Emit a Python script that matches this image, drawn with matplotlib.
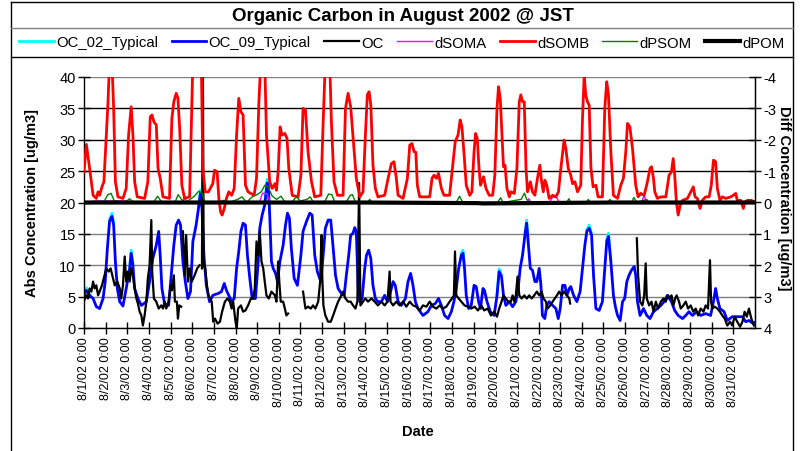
import numpy as np
import matplotlib
matplotlib.use("Agg")
import matplotlib.pyplot as plt
from matplotlib.lines import Line2D

plt.rcParams['font.family'] = ['Liberation Sans', 'DejaVu Sans']
plt.rcParams['axes.unicode_minus'] = False

GAP = (np.nan, np.nan)

# ---- data: (day offset from 8/1/02 0:00, value) ----
# Left axis series [ug/m3]
OC_09_TYPICAL = [(0, 5.2), (.11, 6.0), (.26, 5.2), (.42, 4.7), (.57, 3.4), (.72, 3.1), (.88, 4.7), (.98, 7.4),
    (1.08, 12.7), (1.18, 17.0), (1.29, 17.8), (1.37, 16.4), (1.45, 10.6), (1.54, 6.3), (1.65, 4.2), (1.8, 3.5),
    (1.95, 6.3), (2.11, 9.5), (2.18, 11.9), (2.26, 10.0), (2.34, 6.3), (2.49, 4.7), (2.65, 3.6), (2.88, 4.2),
    (3.03, 7.4), (3.18, 11.1), (3.34, 13.2), (3.45, 15.4), (3.52, 11.6), (3.6, 6.3), (3.72, 3.9), (3.91, 3.6),
    (4.03, 8.4), (4.15, 13.2), (4.26, 16.4), (4.37, 17.2), (4.46, 16.4), (4.57, 10.6), (4.68, 7.4), (4.8, 4.7),
    (4.92, 5.8), (5.03, 13.8), (5.18, 16.4), (5.29, 19.1), (5.38, 21.5), (5.45, 19.1), (5.54, 11.6), (5.65, 6.8),
    (5.8, 4.2), (5.95, 5.2), (6.1, 5.4), (6.2, 5.5), (6.35, 5.8), (6.48, 7.1), (6.58, 6.0), (6.69, 5.2),
    (6.82, 4.2), (6.94, 4.7), (7.05, 9.5), (7.15, 12.2), (7.25, 15.4), (7.35, 16.7), (7.46, 16.4), (7.55, 11.6),
    (7.66, 7.9), (7.77, 4.7), (7.92, 4.7), (8.05, 10.6), (8.12, 15.9), (8.23, 18.0), (8.35, 19.6), (8.46, 23.1),
    (8.51, 22.8), (8.58, 18.0), (8.66, 10.6), (8.74, 9.5), (8.85, 8.7), (8.94, 7.4), (9.05, 10.6), (9.2, 13.2),
    (9.31, 16.4), (9.4, 18.3), (9.49, 17.5), (9.58, 12.7), (9.71, 7.9), (9.86, 6.8), (10.02, 11.6), (10.12, 15.4),
    (10.28, 17.0), (10.43, 18.3), (10.54, 18.0), (10.66, 11.6), (10.78, 9.0), (10.94, 7.4), (11.05, 11.6),
    (11.15, 15.9), (11.28, 17.2), (11.4, 17.2), (11.51, 12.7), (11.62, 8.4), (11.74, 6.3), (11.89, 5.5),
    (12.02, 5.2), (12.12, 8.4), (12.23, 11.6), (12.32, 14.8), (12.43, 15.1), (12.51, 16.0), (12.58, 15.4),
    (12.66, 6.8), (12.74, 4.2), (12.85, 4.7), (12.97, 9.5), (13.05, 11.6), (13.15, 12.4), (13.25, 11.1),
    (13.35, 6.8), (13.46, 4.7), (13.58, 4.2), (13.74, 4.2), (13.89, 5.2), (14.02, 4.2), (14.12, 5.2),
    (14.28, 7.4), (14.38, 6.8), (14.51, 4.2), (14.66, 3.6), (14.85, 4.7), (14.97, 7.4), (15.09, 8.7),
    (15.2, 6.8), (15.31, 4.2), (15.43, 3.1), (15.66, 2.0), (15.89, 2.6), (16.05, 3.6), (16.23, 3.9),
    (16.38, 4.7), (16.51, 3.6), (16.66, 2.0), (16.82, 1.5), (16.97, 2.6), (17.09, 4.2), (17.2, 6.3),
    (17.31, 9.5), (17.43, 11.6), (17.51, 11.9), (17.58, 9.5), (17.66, 5.2), (17.77, 3.1), (17.89, 3.6),
    (18.02, 6.8), (18.12, 6.6), (18.23, 4.2), (18.32, 3.1), (18.43, 6.3), (18.5, 6.0), (18.62, 4.2),
    (18.77, 2.6), (18.95, 2.0), (19.08, 5.2), (19.18, 9.0), (19.29, 8.2), (19.38, 5.2), (19.49, 3.6),
    (19.65, 4.2), (19.8, 3.4), (19.95, 4.2), (20.06, 6.3), (20.15, 9.5), (20.26, 11.6), (20.37, 14.8),
    (20.45, 16.7), (20.52, 13.8), (20.62, 9.5), (20.72, 9.2), (20.83, 7.4), (20.92, 7.4), (21.03, 9.5),
    (21.11, 6.8), (21.18, 2.0), (21.29, 1.5), (21.38, 3.6), (21.49, 4.2), (21.65, 3.6), (21.8, 3.1),
    (21.91, 1.5), (22.0, 3.1), (22.11, 6.8), (22.22, 6.8), (22.31, 5.2), (22.42, 6.3), (22.49, 6.6),
    (22.62, 5.2), (22.77, 4.2), (22.92, 5.8), (23.03, 9.5), (23.14, 13.2), (23.23, 15.4), (23.34, 15.9),
    (23.45, 14.8), (23.54, 8.4), (23.65, 3.1), (23.8, 2.8), (23.95, 4.2), (24.06, 9.5), (24.15, 13.8),
    (24.23, 14.6), (24.34, 10.6), (24.46, 5.2), (24.55, 3.4), (24.65, 2.0), (24.77, 1.2), (24.88, 4.2),
    (24.98, 4.7), (25.08, 7.4), (25.18, 8.4), (25.29, 9.2), (25.42, 9.8), (25.49, 8.4), (25.57, 4.2),
    (25.69, 2.0), (25.85, 3.1), (26.0, 2.0), (26.15, 1.5), (26.31, 2.6), (26.49, 3.1), (26.65, 3.6),
    (26.8, 4.2), (26.95, 5.2), (27.14, 4.2), (27.29, 2.8), (27.45, 2.0), (27.65, 1.5), (27.8, 2.0),
    (27.95, 2.6), (28.11, 2.0), (28.31, 2.6), (28.49, 2.0), (28.72, 2.3), (28.95, 2.0), (29.08, 4.2),
    (29.18, 6.3), (29.26, 4.7), (29.38, 3.1), (29.57, 2.6), (29.72, 1.2), (29.95, 1.8), (30.18, 1.8),
    (30.42, 1.8), (30.57, 1.0), (30.72, 1.2), (30.92, 0.7), (31.0, 0.9)]

# OC_02_Typical: nearly identical to OC_09; only the portions visible above it (peaks)
OC_02_TYPICAL = [(0, 5.5), (.11, 6.4), (.26, 5.4), GAP,
    (1.18, 17.3), (1.29, 18.3), (1.37, 16.7), GAP,
    (2.11, 9.7), (2.18, 12.4), (2.26, 10.2), GAP,
    (5.29, 19.4), (5.38, 22.0), (5.45, 19.4), GAP,
    (8.35, 19.9), (8.46, 23.7), (8.51, 23.3), (8.58, 18.3), GAP,
    (17.43, 11.9), (17.51, 12.4), (17.58, 9.7), GAP,
    (19.08, 5.4), (19.18, 9.4), (19.29, 8.4), GAP,
    (20.37, 15.1), (20.45, 17.2), (20.52, 14.0), GAP,
    (23.23, 15.7), (23.34, 16.4), (23.45, 15.0), GAP,
    (24.15, 14.0), (24.23, 15.1), (24.34, 10.8)]

OC = [(0, 4.2), (.06, 5.0), (.11, 5.2), (.18, 4.7), (.26, 6.3), (.34, 5.8), (.42, 7.4), (.49, 6.3), (.57, 6.8),
    (.65, 5.2), (.72, 5.8), (.83, 6.8), (.95, 8.4), (1.03, 9.5), (1.14, 9.0), (1.23, 9.5), (1.34, 7.9),
    (1.42, 6.8), (1.54, 7.4), (1.65, 6.3), (1.72, 4.7), (1.8, 6.8), (1.88, 11.4), (1.95, 7.4), (2.03, 9.0),
    (2.11, 7.4), (2.18, 9.5), (2.26, 8.4), (2.34, 6.3), (2.42, 4.7), (2.49, 3.9), (2.57, 2.6), (2.65, 2.0),
    (2.72, 0.4), (2.8, 2.0), (2.88, 4.2), (2.95, 7.9), (3.03, 10.0), (3.11, 17.2), (3.15, 9.0), (3.23, 4.7),
    (3.34, 4.2), (3.45, 3.1), (3.57, 3.6), (3.65, 3.1), (3.72, 4.2), (3.8, 3.1), (3.91, 4.2), (4.0, 6.8),
    (4.06, 6.0), (4.15, 8.4), (4.2, 4.2), (4.29, 4.2), (4.34, 1.5), (4.4, 3.6), (4.49, 3.4), GAP,
    (4.57, 15.4), (4.65, 8.4), (4.72, 14.8), (4.8, 7.4), (4.88, 9.5), (4.98, 7.4), (5.11, 8.4), (5.23, 9.5),
    (5.34, 10.0), GAP,
    (5.45, 9.5), (5.49, 45.0), (5.53, 10.0), (5.6, 9.5), (5.68, 6.8), (5.75, 5.2), (5.9, 4.2), (5.97, 1.0),
    (6.05, 1.5), (6.17, 0.7), (6.28, 1.0), (6.38, 2.6), (6.51, 4.2), (6.63, 4.7), (6.74, 4.2), (6.82, 3.1),
    (6.89, 4.2), (7.0, 1.0), (7.06, 0.0), (7.12, 3.1), (7.25, 3.6), (7.35, 2.6), (7.46, 2.8), (7.58, 3.6),
    (7.71, 4.7), (7.82, 4.7), (7.89, 6.3), (7.97, 13.8), (8.05, 11.6), (8.12, 15.4), (8.2, 10.6), (8.28, 9.5),
    (8.35, 7.4), (8.43, 5.2), (8.54, 4.7), (8.66, 5.8), (8.82, 5.2), (8.89, 4.2), (8.97, 10.6), (9.03, 7.0),
    (9.09, 4.2), (9.2, 4.2), (9.28, 3.1), (9.35, 2.0), (9.43, 2.3), GAP,
    (10.12, 5.8), (10.23, 3.1), (10.35, 3.4), (10.48, 3.1), (10.58, 3.6), (10.69, 3.1), (10.82, 4.2),
    (10.91, 7.4), (10.97, 14.8), (11.01, 8.0), (11.06, 3.6), (11.15, 2.0), (11.28, 1.0), (11.4, 1.0),
    (11.51, 2.0), (11.62, 3.1), (11.74, 4.2), (11.89, 5.2), (11.97, 5.8), (12.08, 4.7), (12.2, 4.2),
    (12.32, 4.2), (12.43, 3.6), (12.54, 3.1), (12.63, 4.2), (12.71, 23.1), (12.77, 3.6), (12.89, 4.2),
    (13.0, 4.7), (13.12, 4.2), (13.28, 4.7), (13.43, 4.2), (13.58, 3.6), (13.74, 4.2), (13.89, 3.6),
    (14.02, 4.2), (14.12, 9.0), (14.16, 4.2), (14.28, 3.6), (14.43, 4.2), (14.58, 3.6), (14.74, 4.2),
    (14.89, 3.4), (15.05, 4.2), (15.2, 3.6), (15.35, 3.4), (15.51, 2.8), (15.66, 3.6), (15.82, 3.4),
    (15.97, 4.2), (16.12, 3.4), (16.28, 3.1), (16.43, 3.6), (16.58, 3.1), (16.74, 3.4), (16.89, 4.2),
    (17.0, 4.7), (17.09, 5.2), (17.14, 12.2), (17.2, 5.2), (17.31, 4.7), (17.43, 4.2), (17.58, 3.6),
    (17.74, 3.4), (17.89, 3.1), (18.05, 3.4), (18.2, 2.8), (18.35, 3.6), (18.49, 2.8), (18.65, 3.1),
    (18.8, 2.0), (18.95, 2.6), (19.08, 1.8), (19.18, 3.1), (19.29, 4.2), (19.38, 5.2), (19.49, 4.7),
    (19.6, 4.2), (19.72, 4.2), (19.8, 5.2), (19.88, 4.2), (19.95, 5.2), (20.03, 8.2), (20.11, 5.2),
    (20.22, 4.7), (20.34, 5.2), (20.46, 4.7), (20.57, 5.2), (20.68, 4.7), (20.8, 5.2), (20.92, 5.8),
    (21.03, 5.2), (21.14, 5.8), (21.23, 4.7), (21.34, 4.2), (21.42, 3.1), (21.54, 3.6), (21.65, 4.2),
    (21.75, 4.7), (21.85, 5.2), (21.95, 5.8), (22.06, 5.2), (22.18, 5.8), (22.31, 5.2), (22.42, 4.7),
    (22.46, 3.9), GAP,
    (25.54, 14.3), (25.6, 8.4), (25.69, 4.2), (25.8, 3.6), (25.88, 5.2), (25.95, 10.3), (26.0, 4.7),
    (26.11, 3.6), (26.22, 4.2), (26.31, 2.6), (26.42, 4.2), (26.52, 3.1), (26.65, 4.2), (26.77, 4.7),
    (26.88, 4.2), (26.98, 5.2), (27.08, 4.7), (27.14, 5.2), (27.23, 3.6), (27.31, 4.7), (27.38, 5.2),
    (27.49, 4.2), (27.57, 3.1), (27.69, 3.6), (27.8, 4.2), (27.91, 3.1), (28.03, 3.6), (28.15, 2.6),
    (28.26, 3.1), (28.37, 2.0), (28.49, 3.1), (28.62, 2.6), (28.72, 3.6), (28.83, 3.1), (28.92, 10.8),
    (28.97, 4.2), (29.03, 3.1), (29.14, 3.4), (29.26, 3.1), (29.38, 2.6), (29.49, 2.0), (29.6, 1.5),
    (29.72, 0.4), (29.85, 1.0), (29.95, 0.4), (30.06, 1.8), (30.18, 1.0), (30.31, 0.2), (30.42, 1.0),
    (30.52, 2.6), (30.62, 1.8), (30.72, 3.1), (30.83, 1.5), (30.95, 0.4)]

# Right axis series [ug/m3] (difference, axis inverted)
DSOMB = [(0, -0.98), (.11, -1.85), (.26, -1.09), (.42, -0.23), (.57, -0.13), (.65, -0.34), (.72, -0.23),
    (.83, -0.5), (.92, -0.66), (1.03, -2.15), (1.11, -3.21), (1.18, -4.5), (1.29, -4.5), (1.37, -3.0),
    (1.45, -0.66), (1.57, -0.18), (1.8, -0.13), (1.95, -0.45), (2.06, -2.15), (2.18, -3.05), (2.26, -2.15),
    (2.34, -0.66), (2.46, -0.18), (2.8, -0.13), (2.95, -0.66), (3.06, -2.73), (3.14, -2.79), (3.23, -2.57),
    (3.34, -2.47), (3.42, -1.09), (3.52, -0.77), (3.65, -0.18), (3.95, -0.13), (4.06, -2.68), (4.15, -3.21),
    (4.26, -3.48), (4.34, -3.32), (4.42, -2.36), (4.52, -0.55), (4.65, -0.13), (4.88, -0.18), (4.95, -2.15),
    (5.03, -4.5), (5.42, -4.5), (5.49, -1.09), (5.6, -0.34), (5.75, -0.34), (5.95, -0.6), (6.03, -1.03),
    (6.15, -0.98), (6.23, -0.13), (6.31, 0.3), (6.38, 0.4), (6.48, 0.19), (6.58, -0.13), (6.69, -0.34),
    (6.82, -0.23), (6.94, -0.45), (7.05, -2.15), (7.15, -3.32), (7.25, -2.89), (7.35, -2.79), (7.46, -0.55),
    (7.58, -0.34), (7.86, -0.23), (7.97, -0.77), (8.08, -3.21), (8.17, -4.5), (8.35, -4.5), (8.43, -2.15),
    (8.58, -0.66), (8.69, -0.45), (8.82, -0.6), (8.89, -0.39), (8.97, -0.98), (9.06, -2.41), (9.15, -2.15),
    (9.28, -2.2), (9.38, -2.04), (9.46, -1.09), (9.62, -0.23), (9.89, -0.18), (10.02, -0.87), (10.12, -3.0),
    (10.23, -2.95), (10.35, -1.62), (10.51, -0.66), (10.66, -0.18), (10.94, -0.23), (11.05, -2.57),
    (11.15, -4.5), (11.35, -4.5), (11.43, -2.57), (11.55, -0.66), (11.71, -0.23), (11.97, -0.23),
    (12.08, -3.0), (12.2, -3.48), (12.32, -3.05), (12.48, -1.62), (12.58, -0.77), (12.74, -0.18),
    (12.89, -0.34), (13.0, -2.15), (13.09, -3.43), (13.17, -3.53), (13.25, -3.11), (13.35, -1.19),
    (13.46, -0.45), (13.58, -0.18), (13.89, -0.23), (14.05, -0.77), (14.2, -1.24), (14.32, -1.3),
    (14.43, -0.77), (14.51, -0.23), (14.74, -0.13), (14.94, -0.77), (15.05, -1.83), (15.15, -1.88),
    (15.25, -1.62), (15.33, -1.6), (15.4, -0.55), (15.51, -0.18), (15.97, -0.18), (16.08, -0.77),
    (16.17, -0.87), (16.28, -0.77), (16.38, -0.93), (16.51, -0.45), (16.63, -0.23), (16.89, -0.23),
    (17.05, -1.3), (17.15, -1.94), (17.28, -2.15), (17.38, -2.63), (17.46, -2.41), (17.55, -1.62),
    (17.66, -0.55), (17.82, -0.23), (17.92, -0.34), (18.02, -1.62), (18.09, -2.2), (18.17, -2.04),
    (18.25, -1.09), (18.32, -0.55), (18.46, -0.82), (18.57, -0.45), (18.72, -0.23), (18.88, -0.23),
    (18.98, -0.87), (19.08, -3.0), (19.15, -3.69), (19.23, -3.32), (19.31, -2.15), (19.38, -1.14),
    (19.45, -1.19), (19.54, -0.45), (19.65, -0.18), (19.72, -0.34), (19.88, -0.29), (20.0, -1.09),
    (20.11, -3.21), (20.18, -3.43), (20.26, -3.21), (20.34, -3.21), (20.42, -1.09), (20.49, -0.34),
    (20.62, -0.66), (20.72, -0.34), (20.83, -0.23), (20.95, -0.77), (21.06, -1.19), (21.14, -0.66),
    (21.22, -0.34), (21.29, -0.71), (21.38, -0.55), (21.49, -0.13), (21.65, -0.23), (21.8, -0.18),
    (21.92, -0.34), (22.03, -1.09), (22.12, -1.62), (22.18, -1.99), (22.26, -1.72), (22.37, -1.09),
    (22.49, -0.87), (22.57, -0.6), (22.68, -0.66), (22.8, -0.34), (22.95, -0.55), (23.03, -2.68),
    (23.11, -4.05), (23.18, -3.43), (23.26, -3.21), (23.34, -3.1), (23.42, -1.09), (23.52, -0.5),
    (23.65, -0.55), (23.75, -0.18), (23.95, -0.18), (24.06, -3.0), (24.15, -3.85), (24.23, -3.43),
    (24.34, -1.62), (24.46, -0.23), (24.65, -0.13), (24.8, -0.55), (24.92, -0.77), (25.03, -1.62),
    (25.11, -2.52), (25.22, -2.41), (25.34, -1.72), (25.42, -1.09), (25.49, -0.55), (25.6, -0.18),
    (25.72, -0.29), (25.88, -0.23), (26.03, -0.66), (26.15, -1.09), (26.22, -1.14), (26.31, -0.77),
    (26.37, -0.34), (26.49, -0.13), (26.65, -0.18), (26.88, -0.18), (27.03, -0.87), (27.14, -0.98),
    (27.22, -1.4), (27.29, -0.87), (27.37, 0.0), (27.45, 0.4), (27.54, 0.09), (27.65, -0.07), (27.88, -0.13),
    (28.03, -0.34), (28.15, -0.5), (28.23, -0.18), (28.34, -0.13), (28.46, 0.19), (28.57, -0.07),
    (28.72, -0.18), (28.88, -0.18), (28.98, -0.55), (29.08, -1.35), (29.18, -1.3), (29.26, -0.45),
    (29.38, -0.07), (29.49, -0.18), (29.65, -0.13), (29.88, -0.18), (30.0, -0.23), (30.11, -0.29),
    (30.18, -0.07), (30.34, -0.07), (30.46, 0.19), (30.52, 0.0), (30.65, -0.07), (30.83, -0.07), (31.0, 0.0)]

DPSOM = [(0, 0.0), (0.9, 0.0), (1.1, -0.25), (1.25, -0.29), (1.4, -0.05), (1.9, 0.0), (2.1, -0.12), (2.3, 0.0),
    (3.2, 0.0), (3.4, -0.2), (3.6, 0.0), (4.2, 0.0), (4.35, -0.25), (4.5, -0.1), (4.7, 0.0), (5.1, -0.2),
    (5.3, -0.36), (5.45, -0.3), (5.6, 0.0), (6.2, 0.0), (6.45, -0.07), (6.7, 0.0), (7.1, -0.1), (7.3, -0.18),
    (7.5, 0.0), (7.8, -0.2), (8.0, -0.25), (8.2, -0.35), (8.35, -0.55), (8.5, -0.5), (8.7, -0.2), (8.9, -0.1),
    (9.1, -0.2), (9.3, 0.0), (9.6, 0.0), (9.8, -0.18), (10.0, -0.05), (10.3, -0.1), (10.45, -0.18),
    (10.6, 0.0), (11.1, 0.0), (11.3, -0.27), (11.45, -0.25), (11.6, 0.0), (12.1, 0.0), (12.3, -0.23),
    (12.4, -0.25), (12.55, 0.0), (13.1, 0.0), (13.2, -0.1), (13.3, 0.0), (17.2, 0.0), (17.35, -0.2),
    (17.5, 0.0), (19.1, 0.0), (19.25, -0.15), (19.35, 0.0), (20.2, -0.1), (20.35, -0.3), (20.45, -0.1),
    (20.6, 0.0), (22.3, 0.0), (22.4, -0.12), (22.5, 0.0), (23.2, 0.0), (23.3, -0.1), (23.4, 0.0),
    (24.2, 0.0), (24.3, -0.1), (24.4, 0.0), (25.3, 0.0), (25.4, -0.16), (25.55, 0.0), (26.0, -0.1),
    (26.1, 0.0), (31, 0.0)]

DSOMA = [(0, 0.0), (0.5, -0.05), (1.9, -0.05), (2.0, 0.0), (4.55, 0.0), (4.65, -0.18), (4.75, 0.0),
    (8.1, 0.0), (8.25, -0.3), (8.45, -0.28), (8.6, 0.0), (20.45, 0.0), (20.55, -0.12), (20.65, 0.0),
    (21.5, 0.0), (21.65, -0.18), (21.85, -0.15), (21.95, 0.0), (25.75, 0.0), (25.88, -0.23),
    (25.98, 0.0), (31, 0.0)]

DPOM = [(0, 0.0), (13.0, 0.0), (18.2, 0.02), (18.4, 0.03), (24.5, 0.0), (31, 0.0)]

DAY_LABELS = [f"8/{d}/02 0:00" for d in range(1, 32)]
LEFT_TICKS = [0, 5, 10, 15, 20, 25, 30, 35, 40]
RIGHT_TICKS = [-4, -3, -2, -1, 0, 1, 2, 3, 4]


def xy(pts):
    a = np.array(pts, dtype=float)
    return a[:, 0], a[:, 1]


W, H = 803, 452
fig = plt.figure(figsize=(W / 100, H / 100), dpi=100)
L, R, T, B = 84, 755, 78, 329
ax = fig.add_axes([L / W, 1 - B / H, (R - L) / W, (B - T) / H])
ax2 = ax.twinx()

# primary axis
ax.set_xlim(0, 31)
ax.set_ylim(0, 40)
ax.set_yticks(LEFT_TICKS)
ax.set_xticks(range(31))
ax.set_xticklabels(DAY_LABELS, rotation=90, fontsize=9)
ax.tick_params(axis='y', direction='inout', length=8, width=1, labelsize=10.5, pad=2)
ax.tick_params(axis='x', direction='inout', length=8, width=1, pad=2)
ax.spines['top'].set_visible(False)
ax.spines['left'].set_linewidth(1)
ax.spines['bottom'].set_linewidth(1)
ax.grid(axis='y', color='#808080', lw=1)
for gl, v in zip(ax.get_ygridlines(), LEFT_TICKS):
    if v in (25, 30, 35):
        gl.set_color('black')
ax.set_axisbelow(True)

t, v = xy(OC_02_TYPICAL)
h1, = ax.plot(t, v, color='#00FFFF', lw=2.0, label='OC_02_Typical')
t, v = xy(OC_09_TYPICAL)
h2, = ax.plot(t, v, color='#0000FF', lw=2.0, label='OC_09_Typical')
t, v = xy(OC)
h3, = ax.plot(t, v, color='black', lw=1.6, label='OC')

# secondary axis
ax2.set_ylim(4, -4)
ax2.set_yticks(RIGHT_TICKS)
ax2.tick_params(axis='y', direction='inout', length=8, width=1, labelsize=10.5, pad=2)
for s in ['top', 'left', 'bottom']:
    ax2.spines[s].set_visible(False)
ax2.spines['right'].set_linewidth(1)

t, v = xy(DSOMA)
h4, = ax2.plot(t, v, color='#FF00FF', lw=1.0, label='dSOMA')
t, v = xy(DSOMB)
h5, = ax2.plot(t, v, color='#FF0000', lw=2.0, label='dSOMB')
t, v = xy(DPSOM)
h6, = ax2.plot(t, v, color='#008000', lw=1.0, label='dPSOM')
t, v = xy(DPOM)
h7, = ax2.plot(t, v, color='black', lw=3.0, label='dPOM')

# labels
ax.set_ylabel('Abs Concentration [ug/m3]', fontsize=10.5, fontweight='bold')
ax.yaxis.set_label_coords((39 - L) / (R - L), 0.5)
ax2.set_ylabel('Diff Concentration [ug/m3]', fontsize=10.5, fontweight='bold', rotation=-90, va='center')
ax2.yaxis.set_label_coords((784 - L) / (R - L), 0.52)
ax.set_xlabel('Date', fontsize=10.5, fontweight='bold')
ax.xaxis.set_label_coords((418 - L) / (R - L), (B - 425) / (B - T))

fig.text(403 / W, 1 - 16.5 / H, 'Organic Carbon in August 2002 @ JST', ha='center', va='center',
         fontsize=13.5, fontweight='bold')

fig.legend(handles=[h1, h2, h3, h4, h5, h6, h7], loc='center left',
           bbox_to_anchor=(19 / W, 1 - 43.5 / H), ncol=7, frameon=False, fontsize=10.7,
           handlelength=2.35, handletextpad=0.15, columnspacing=0.9, borderpad=0, borderaxespad=0)

# figure frame and header separators
def fline(x0, y0, x1, y1, color='black', lw=1.0):
    fig.add_artist(Line2D([x0 / W, x1 / W], [1 - y0 / H, 1 - y1 / H], color=color, lw=lw,
                          transform=fig.transFigure))

fline(11, 2.7, 793, 2.7)
fline(11, 2.7, 11, H + 5)
fline(793, 2.7, 793, H + 5)
fline(11, 29.3, 793, 29.3, color='#808080')
fline(11, 58.3, 793, 58.3)

fig.savefig('out.png', dpi=100)
